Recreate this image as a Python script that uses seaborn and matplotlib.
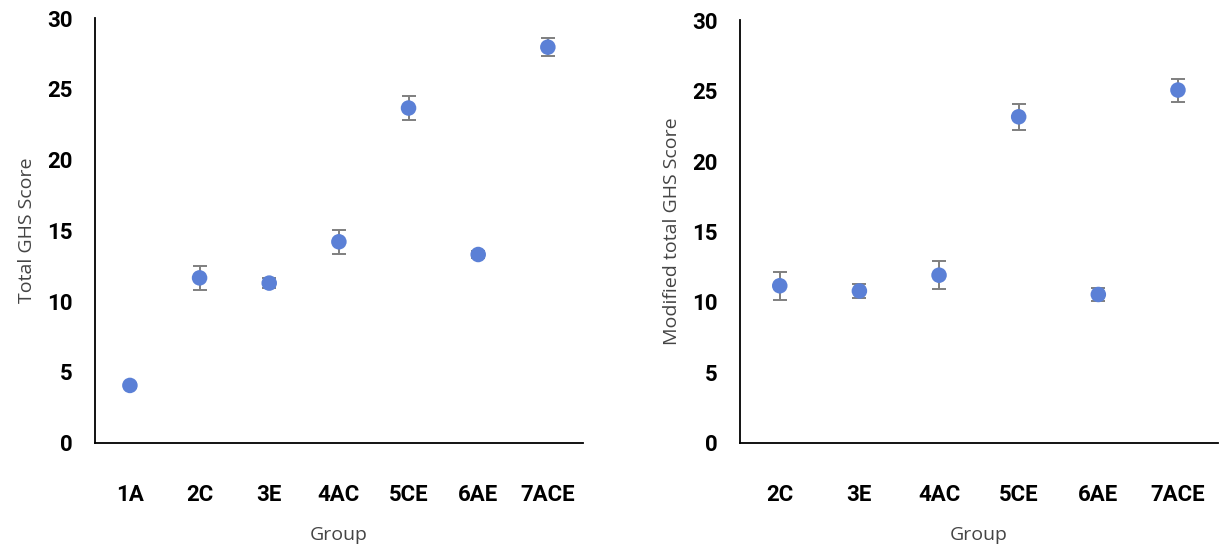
import matplotlib
matplotlib.use("Agg")
import matplotlib.pyplot as plt
import seaborn as sns
import pandas as pd

groups_total = ["1A", "2C", "3E", "4AC", "5CE", "6AE", "7ACE"]
mean_total = [4.05, 11.65, 11.28, 14.2, 23.65, 13.3, 27.95]
err_total = [0.2, 0.85, 0.35, 0.85, 0.85, 0.25, 0.65]

groups_mod = ["2C", "3E", "4AC", "5CE", "6AE", "7ACE"]
mean_mod = [11.15, 10.78, 11.9, 23.15, 10.53, 25.05]
err_mod = [1.0, 0.48, 1.0, 0.92, 0.45, 0.82]

ylabels = ["Total GHS Score", "Modified total GHS Score"]
xlabel = "Group"

sns.set_theme(style="white")
tick_family = ['Liberation Sans Narrow', 'DejaVu Sans Condensed', 'Roboto', 'DejaVu Sans']
plt.rcParams['font.family'] = tick_family

fig = plt.figure(figsize=(12.19, 5.5), dpi=100)
ax1 = fig.add_axes([0.078, 0.195, 0.400, 0.772])
ax2 = fig.add_axes([0.607, 0.195, 0.392, 0.768])

point_color = "#5b80d6"
err_color = "#7f7f7f"
label_family = ['Open Sans', 'DejaVu Sans']

for ax, cats, means, errs, ylab in [
    (ax1, groups_total, mean_total, err_total, ylabels[0]),
    (ax2, groups_mod, mean_mod, err_mod, ylabels[1]),
]:
    df = pd.DataFrame({"group": cats, "mean": means, "err": errs})
    ax.errorbar(df["group"], df["mean"], yerr=df["err"], fmt="none",
                ecolor=err_color, elinewidth=1.4, capsize=5, capthick=1.4, zorder=2)
    sns.scatterplot(data=df, x="group", y="mean", ax=ax, color=point_color,
                    s=125, edgecolor="none", zorder=3)
    ax.set_xlim(-0.5, len(cats) - 0.5)
    ax.set_ylim(0, 30)
    ax.set_yticks([0, 5, 10, 15, 20, 25, 30])
    ax.set_ylabel(ylab, fontsize=14, color="#444444", family=label_family, labelpad=8)
    ax.set_xlabel(xlabel, fontsize=14, color="#444444", family=label_family, labelpad=14)
    for s in ["top", "right"]:
        ax.spines[s].set_visible(False)
    for s in ["left", "bottom"]:
        ax.spines[s].set_color("black")
        ax.spines[s].set_linewidth(1.3)
    ax.tick_params(axis="both", length=0, labelsize=16, colors="black")
    ax.tick_params(axis="x", pad=30)
    ax.tick_params(axis="y", pad=16)
    for lab in ax.get_xticklabels() + ax.get_yticklabels():
        lab.set_fontweight("bold")
    ax.grid(False)

fig.savefig("out.png", dpi=100)
